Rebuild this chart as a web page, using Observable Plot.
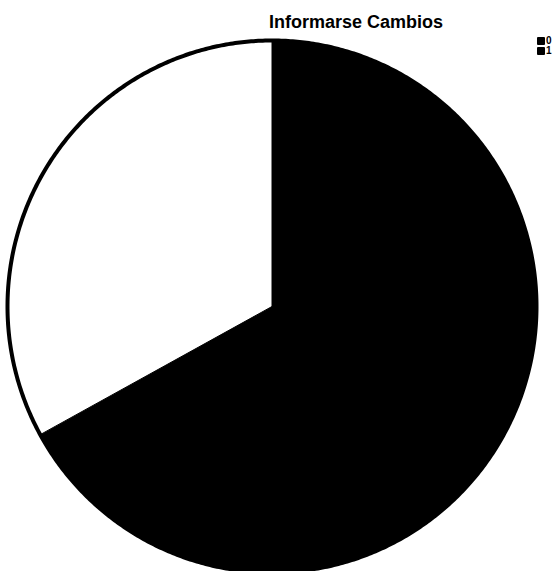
<!DOCTYPE html>
<html>
<head>
<meta charset="utf-8">
<script src="https://cdn.jsdelivr.net/npm/d3@7"></script>
<script src="https://cdn.jsdelivr.net/npm/@observablehq/plot@0.6"></script>
<style>
  html, body { margin: 0; padding: 0; background: #fff; }
  #wrap { position: relative; width: 558px; height: 571px; overflow: hidden; font-family: "Liberation Sans", Arial, sans-serif; }
  #title { position: absolute; left: 0; width: 712px; top: 12px; text-align: center; font-weight: bold; font-size: 18px; color: #000; }
  #legend { position: absolute; left: 537px; top: 36px; font-size: 10px; font-weight: bold; line-height: 10px; }
  .li { display: flex; align-items: center; height: 10px; }
  .sw { width: 8px; height: 8px; background: #000; margin-right: 1px; border-radius: 1px; }
</style>
</head>
<body>
<div id="wrap">
  <div id="chart"></div>
  <div id="title">Informarse Cambios</div>
  <div id="legend"></div>
</div>
<script>
const title = "Informarse Cambios";
const categories = ["0", "1"];
const values = [67, 33];
const sliceColors = ["#000000", "#ffffff"];
const legendColors = ["#000000", "#000000"];

const pie = d3.pie().sort(null).value(d => d.value)(
  categories.map((c, i) => ({cat: c, value: values[i]}))
);

function slicePoints(a0, a1, cat) {
  const pts = [{cat, x: 0, y: 0}];
  const n = Math.max(2, Math.ceil((a1 - a0) / (Math.PI / 360)));
  for (let k = 0; k <= n; k++) {
    const a = a0 + (a1 - a0) * k / n;
    pts.push({cat, x: Math.sin(a), y: Math.cos(a)});
  }
  pts.push({cat, x: 0, y: 0});
  return pts;
}

const rim = [];
for (let k = 0; k <= 720; k++) {
  const a = 2 * Math.PI * k / 720;
  rim.push({x: Math.sin(a), y: Math.cos(a)});
}

const marks = pie.map((p, i) =>
  Plot.line(slicePoints(p.startAngle, p.endAngle, p.data.cat), {
    x: "x", y: "y", fill: sliceColors[i], stroke: "#000", strokeWidth: 1, curve: "linear"
  })
);
marks.push(Plot.line(rim, {x: "x", y: "y", stroke: "#000", strokeWidth: 4}));

const chart = Plot.plot({
  width: 558,
  height: 571,
  margin: 0,
  style: {background: "#fff"},
  x: {domain: [-1, 1], range: [7, 536], axis: null},
  y: {domain: [-1, 1], range: [572, 40], axis: null},
  marks
});
document.getElementById("chart").appendChild(chart);

const leg = document.getElementById("legend");
categories.forEach((c, i) => {
  const row = document.createElement("div");
  row.className = "li";
  const sw = document.createElement("span");
  sw.className = "sw";
  sw.style.background = legendColors[i];
  const t = document.createElement("span");
  t.textContent = c;
  row.appendChild(sw);
  row.appendChild(t);
  leg.appendChild(row);
});
</script>
</body>
</html>
